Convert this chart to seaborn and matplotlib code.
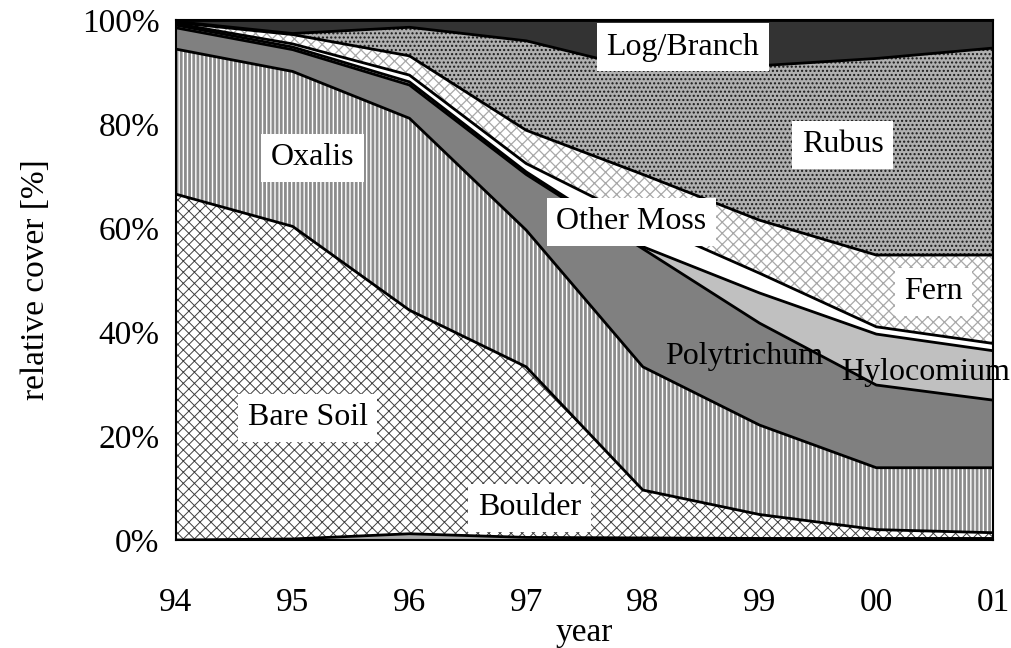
import numpy as np
import pandas as pd
import matplotlib
matplotlib.use("Agg")
import matplotlib.pyplot as plt
import seaborn as sns

# ---------------- data (relative cover, %) ----------------
years = ["94", "95", "96", "97", "98", "99", "00", "01"]
boulder     = [0.0, 0.2, 1.2, 0.5, 0.4, 0.3, 0.3, 0.3]
bare_soil   = [66.5, 60.1, 43.0, 32.8, 9.2, 4.6, 1.7, 1.1]
oxalis      = [27.9, 29.8, 36.9, 26.3, 23.7, 17.2, 11.9, 12.5]
polytrichum = [4.1, 4.2, 6.4, 10.7, 22.7, 19.6, 15.9, 13.0]
hylocomium  = [0.5, 0.5, 0.6, 0.5, 0.4, 5.8, 9.8, 9.5]
other_moss  = [0.3, 0.6, 1.3, 1.6, 4.8, 3.8, 1.4, 1.4]
fern        = [0.2, 1.8, 3.7, 6.4, 9.1, 10.2, 13.8, 17.0]
rubus       = [0.2, 0.2, 5.5, 17.2, 20.2, 29.7, 37.8, 39.8]
log_branch  = [0.3, 2.6, 1.4, 4.0, 9.5, 8.8, 7.4, 5.4]

layer_names = ["Boulder", "Bare Soil", "Oxalis", "Polytrichum", "Hylocomium",
               "Other Moss", "Fern", "Rubus", "Log/Branch"]
layer_values = [boulder, bare_soil, oxalis, polytrichum, hylocomium,
                other_moss, fern, rubus, log_branch]

# ---------------- style ----------------
sns.set_theme(style="white")
plt.rcParams["font.family"] = ["Liberation Serif", "DejaVu Serif"]
plt.rcParams["text.color"] = "black"
plt.rcParams["axes.labelcolor"] = "black"
plt.rcParams["xtick.color"] = "black"
plt.rcParams["ytick.color"] = "black"

# face colour, hatch colour, hatch pattern, hatch linewidth
styles = {
    "Boulder":     ("#a8a8a8", "#a8a8a8", None, 1.0),
    "Bare Soil":   ("white", "#404040", "xxx", 0.7),
    "Oxalis":      ("white", "#8c8c8c", "||||", 2.0),
    "Polytrichum": ("#808080", "#808080", None, 1.0),
    "Hylocomium":  ("#c0c0c0", "#c0c0c0", None, 1.0),
    "Other Moss":  ("white", "white", None, 1.0),
    "Fern":        ("white", "#a8a8a8", "xxx", 0.9),
    "Rubus":       ("#b0b0b0", "#1a1a1a", "....", 1.0),
    "Log/Branch":  ("#333333", "#333333", None, 1.0),
}

W, H = 1012, 648
fig = plt.figure(figsize=(W / 100, H / 100), dpi=100)
ax = fig.add_axes([176 / W, 1 - 540 / H, (993 - 176) / W, (540 - 20) / H])

x = np.arange(len(years))
vals = np.array(layer_values, dtype=float)
tops = np.cumsum(vals, axis=0)
bottoms = np.vstack([np.zeros(len(years)), tops[:-1]])

for name, lo, hi in zip(layer_names, bottoms, tops):
    fc, hc, hatch, hlw = styles[name]
    with plt.rc_context({"hatch.linewidth": hlw}):
        ax.fill_between(x, lo, hi, facecolor=fc, edgecolor=hc, hatch=hatch,
                        linewidth=0, zorder=1)

# boundary lines through seaborn
long = pd.DataFrame({
    "x": np.tile(x, len(layer_names)),
    "y": tops.ravel(),
    "layer": np.repeat(layer_names, len(years)),
})
sns.lineplot(data=long, x="x", y="y", units="layer", estimator=None,
             color="black", linewidth=2.0, ax=ax, zorder=3, legend=False)

# labels
labels = [
    ("Log/Branch", 4.34, 94.8, True),
    ("Rubus", 5.71, 76.0, True),
    ("Oxalis", 1.17, 73.5, True),
    ("Other Moss", 3.90, 61.2, True),
    ("Fern", 6.49, 47.7, True),
    ("Polytrichum", 4.87, 35.2, False),
    ("Hylocomium", 6.42, 32.3, False),
    ("Bare Soil", 1.13, 23.5, True),
    ("Boulder", 3.03, 6.2, True),
]
for txt, lx, ly, boxed in labels:
    kw = dict(ha="center", va="center", fontsize=23, color="black", zorder=5)
    if boxed:
        kw["bbox"] = dict(facecolor="white", edgecolor="none", pad=7)
    ax.text(lx, ly, txt, **kw)

ax.set_xlim(0, len(years) - 1)
ax.set_ylim(0, 100)
ax.set_xticks(x)
ax.set_xticklabels(years)
ax.set_yticks([0, 20, 40, 60, 80, 100])
ax.set_yticklabels([f"{v}%" for v in [0, 20, 40, 60, 80, 100]])
ax.tick_params(axis="both", which="both", direction="out", length=8,
               width=1.2, color="#606060", labelsize=24, labelcolor="black")
ax.tick_params(axis="x", pad=26)
ax.tick_params(axis="y", pad=4)
for sp in ax.spines.values():
    sp.set_visible(True)
    sp.set_color("black")
    sp.set_linewidth(1.5)
    sp.set_zorder(4)

ax.set_xlabel("year", fontsize=24, labelpad=0)
ax.set_ylabel("relative cover [%]", fontsize=24, labelpad=22)

fig.savefig("out.png", dpi=100)
